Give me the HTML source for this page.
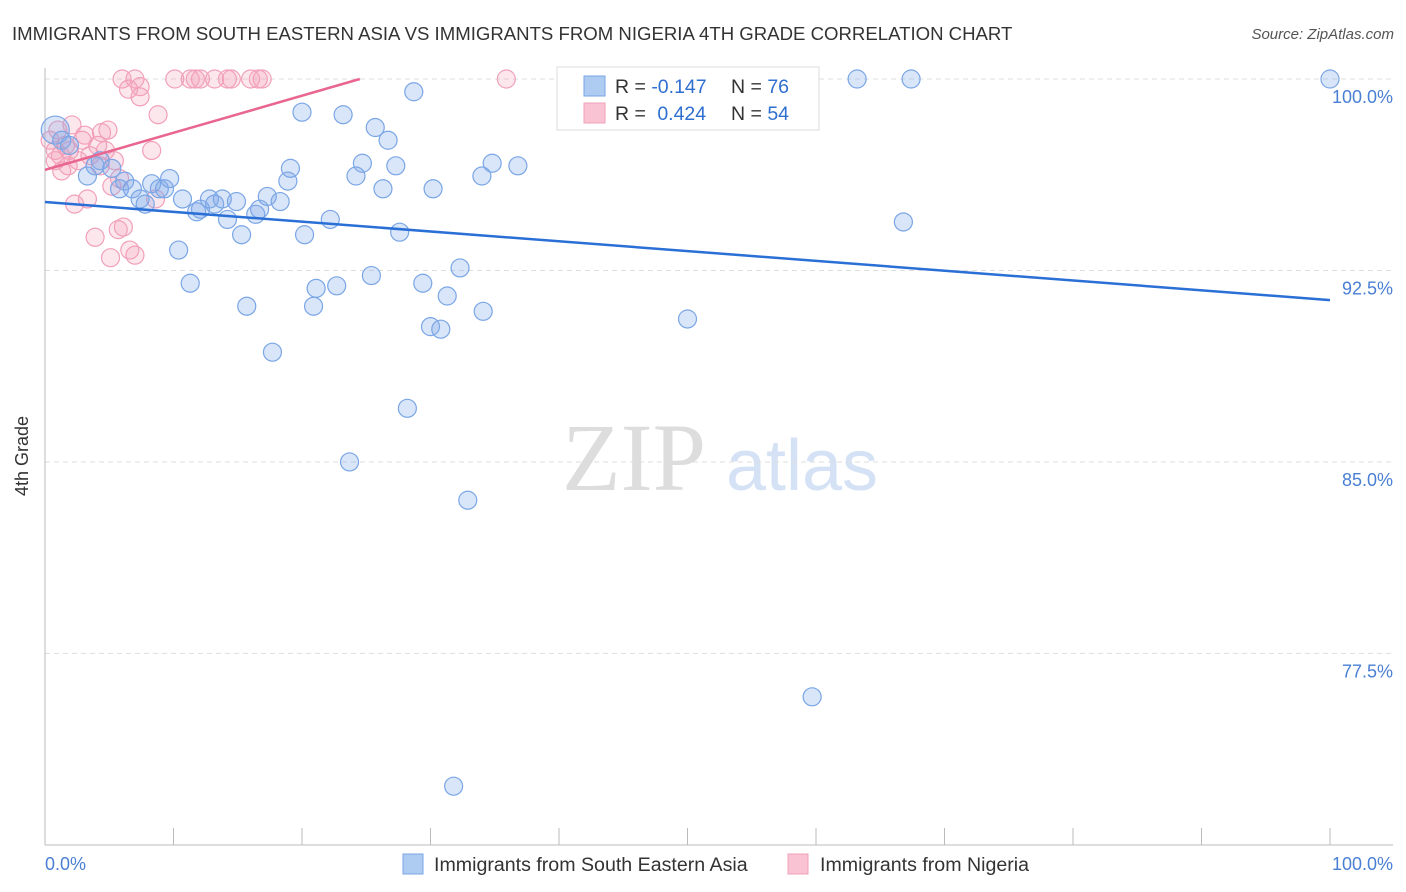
<!DOCTYPE html>
<html><head><meta charset="utf-8"><style>
body{margin:0;background:#fff;font-family:"Liberation Sans",sans-serif}
#wrap{position:relative;width:1406px;height:892px;overflow:hidden}
</style></head><body>
<div id="wrap">
<svg id="svg" width="1406" height="892" xmlns="http://www.w3.org/2000/svg">
<text x="12" y="40" font-size="18.6" fill="#333">IMMIGRANTS FROM SOUTH EASTERN ASIA VS IMMIGRANTS FROM NIGERIA 4TH GRADE CORRELATION CHART</text>
<text x="1394" y="39" font-size="15" fill="#555" font-style="italic" text-anchor="end">Source: ZipAtlas.com</text>
<text x="634" y="490" font-size="96" fill="#ddd" font-family="Liberation Serif" text-anchor="middle">ZIP</text>
<text x="802" y="490" font-size="72" fill="#d5e2f5" text-anchor="middle">atlas</text>
<g id="grid"></g><g id="axes"></g><g id="pink"></g><g id="blue"></g><g id="lines"></g>
<text x="28" y="456" font-size="18" fill="#333" text-anchor="middle" transform="rotate(-90 28 456)">4th Grade</text>
<text x="45" y="870" font-size="18" fill="#4a7fd4">0.0%</text>
<text x="1393" y="870" font-size="18" fill="#4a7fd4" text-anchor="end">100.0%</text>
<g>
<rect x="557" y="67" width="262" height="63" fill="#fff" stroke="#ddd"/>
<rect x="584" y="76" width="21" height="20" fill="#aecbf2" stroke="#7aa6e6"/>
<rect x="584" y="103" width="21" height="20" fill="#f9c3d3" stroke="#f0a0b9"/>
<text x="615" y="93" font-size="19.5" fill="#333">R = <tspan fill="#2f6fd0">-0.147</tspan></text>
<text x="731" y="93" font-size="19.5" fill="#333">N = <tspan fill="#2f6fd0">76</tspan></text>
<text x="615" y="120" font-size="19.5" fill="#333">R = <tspan fill="#2f6fd0" dx="6">0.424</tspan></text>
<text x="731" y="120" font-size="19.5" fill="#333">N = <tspan fill="#2f6fd0">54</tspan></text>
</g>
<g>
<rect x="403" y="854" width="20" height="20" fill="#aecbf2" stroke="#7aa6e6"/>
<text x="434" y="871" font-size="19.6" fill="#333">Immigrants from South Eastern Asia</text>
<rect x="788" y="854" width="20" height="20" fill="#f9c3d3" stroke="#f0a0b9"/>
<text x="820" y="871" font-size="19.6" fill="#333">Immigrants from Nigeria</text>
</g>
</svg>
</div>
<script>
const blueX=[0.8,1.3,1.9,3.3,3.9,4.3,5.2,5.8,6.2,6.8,7.4,7.8,8.3,8.9,9.3,9.7,10.4,10.7,11.3,11.8,12.1,12.8,13.2,13.8,14.2,14.9,15.3,15.7,16.4,16.7,17.3,17.7,18.3,18.9,19.1,20.0,20.2,20.9,21.1,22.2,22.7,23.2,23.7,24.2,24.7,25.4,25.7,26.3,26.7,27.3,27.6,28.2,28.7,29.4,30.0,30.2,30.8,31.3,31.8,32.3,32.9,34.0,34.1,34.8,36.8,43.2,50.0,59.7,63.2,66.8,67.4,100];
const blueY=[98.0,97.6,97.4,96.2,96.6,96.8,96.5,95.7,96.0,95.7,95.3,95.1,95.9,95.7,95.7,96.1,93.3,95.3,92.0,94.8,94.9,95.3,95.1,95.3,94.5,95.2,93.9,91.1,94.7,94.9,95.4,89.3,95.2,96.0,96.5,98.7,93.9,91.1,91.8,94.5,91.9,98.6,85.0,96.2,96.7,92.3,98.1,95.7,97.6,96.6,94.0,87.1,99.5,92.0,90.3,95.7,90.2,91.5,72.3,92.6,83.5,96.2,90.9,96.7,96.6,100,90.6,75.8,100,94.4,100,100];
const pinkX=[0.4,0.8,1.2,1.6,1.8,2.1,2.3,2.6,2.9,3.1,3.3,3.5,3.9,4.1,4.3,4.4,4.7,4.9,5.1,5.2,5.4,5.7,5.8,6.1,6.5,6.6,7.0,7.4,6.0,7.0,7.4,8.3,8.6,8.8,10.1,11.3,11.7,12.1,13.2,14.2,14.5,16.0,16.6,16.9,35.9,0.8,1.3,1.9,1.0];
const pinkY=[97.6,97.2,97.0,97.4,96.6,98.2,95.1,96.8,97.6,97.8,95.3,97.0,93.8,97.4,96.6,97.9,97.2,98.0,93.0,95.8,96.8,94.1,96.1,94.2,99.6,93.3,93.1,99.3,100,100,99.7,97.2,95.3,98.6,100,100,100,100,100,100,100,100,100,100,100,96.8,96.4,97.2,98.0];
const blueTrend=[95.18,91.34];
const pinkTrend=[96.44,100];
const pinkTrendEndX=24.5;
const yTicks=[100,92.5,85,77.5];
const yTickLabels=["100.0%","92.5%","85.0%","77.5%"];
const xTicks=[0,10,20,30,40,50,60,70,80,90,100];
const NS="http://www.w3.org/2000/svg";
const X=v=>45+v*12.85, Y=v=>79+(100-v)*25.53;
function mk(p,t,a){const e=document.createElementNS(NS,t);for(const k in a)e.setAttribute(k,a[k]);document.getElementById(p).appendChild(e);return e;}
yTicks.forEach((t,i)=>{
 const l=mk('grid','line',{x1:45,x2:1393,y1:Y(t),y2:Y(t),stroke:'#ddd','stroke-dasharray':'5,4'});
 
 
 const tx=mk('grid','text',{x:1393,y:Y(t)+24,'font-size':18,fill:'#4a7fd4','text-anchor':'end'});
 tx.textContent=yTickLabels[i];
 
 
});
const ax=mk('axes','line',{x1:45,x2:45,y1:68,y2:845,stroke:'#bbb'});


const bx=mk('axes','line',{x1:45,x2:1393,y1:845,y2:845,stroke:'#bbb'});


xTicks.forEach(t=>{
 const l=mk('axes','line',{x1:X(t),x2:X(t),y1:828,y2:845,stroke:'#bbb'});
 
 
});
pinkX.forEach((x,i)=>{
 const c=mk('pink','circle',{cx:X(x),cy:Y(pinkY[i]),r:9,fill:'rgba(245,160,185,0.25)',stroke:'#f2a0ba','stroke-width':1.2});
 
 
});
blueX.forEach((x,i)=>{
 const c=mk('blue','circle',{cx:X(x),cy:Y(blueY[i]),r:i==0?14:9,fill:'rgba(130,170,232,0.3)',stroke:'#7aa6e6','stroke-width':1.2});
 
 
});
const bl=mk('lines','line',{x1:X(0),y1:Y(blueTrend[0]),x2:X(100),y2:Y(blueTrend[1]),stroke:'#2a6fd6','stroke-width':2.5});


const pl=mk('lines','line',{x1:X(0),y1:Y(pinkTrend[0]),x2:X(pinkTrendEndX),y2:Y(pinkTrend[1]),stroke:'#e8668f','stroke-width':2.5});


</script>
</body></html>
